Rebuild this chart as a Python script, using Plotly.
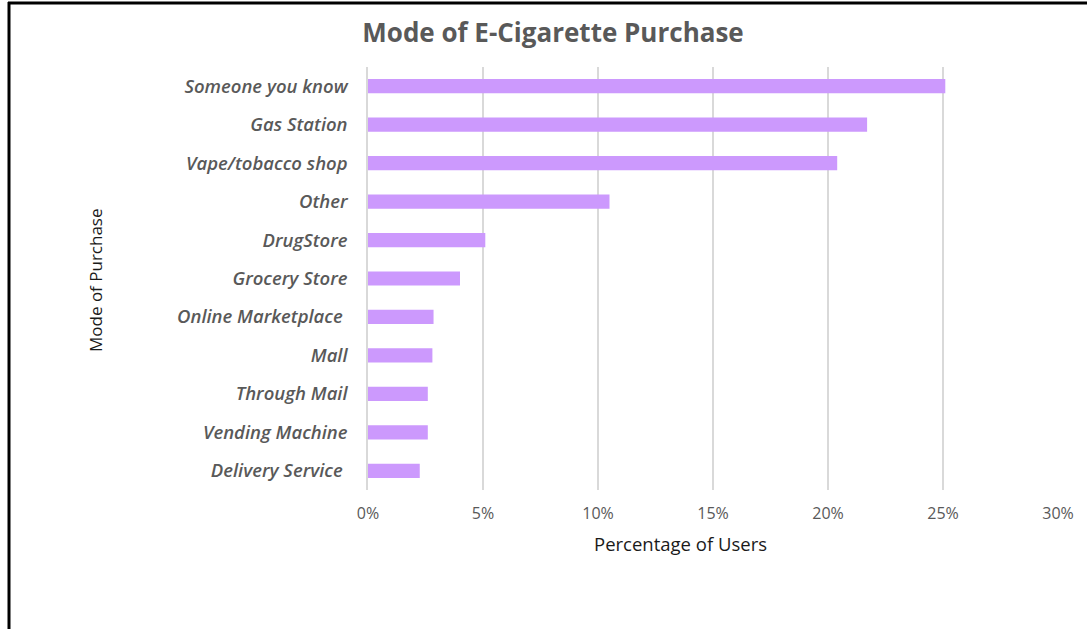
import plotly.graph_objects as go

# Purchase channels, top to bottom
categories = [
    "Someone you know", "Gas Station", "Vape/tobacco shop", "Other",
    "DrugStore", "Grocery Store", "Online Marketplace\u00a0", "Mall",
    "Through Mail", "Vending Machine", "Delivery Service\u00a0",
]
# Share of users (%)
shares = [25.1, 21.7, 20.4, 10.5, 5.1, 4.0, 2.85, 2.8, 2.6, 2.6, 2.25]

x_ticks = [0, 5, 10, 15, 20, 25, 30]
x_tick_labels = ["0%", "5%", "10%", "15%", "20%", "25%", "30%"]

fig = go.Figure(
    go.Bar(
        x=shares,
        y=categories,
        orientation="h",
        marker=dict(color="#cc99fd", line=dict(width=0)),
        width=0.37,
    )
)

W, H = 1087, 629
ml, mr, mt, mb = 368, 29, 67, 139
pw, ph = W - ml - mr, H - mt - mb

def px_to_paper_x(px):
    return (px - ml) / pw

def px_to_paper_y(py):
    return (H - mb - py) / ph

fig.update_layout(
    width=W,
    height=H,
    margin=dict(l=ml, r=mr, t=mt, b=mb),
    paper_bgcolor="white",
    plot_bgcolor="white",
    showlegend=False,
    font=dict(family="Open Sans, sans-serif", color="#595959"),
    title=dict(
        text="<b>Mode of E-Cigarette Purchase</b>",
        x=553 / W,
        xanchor="center",
        y=1 - 33 / H,
        yanchor="middle",
        font=dict(size=26, color="#595959", family="Open Sans, sans-serif"),
    ),
)

fig.update_xaxes(
    range=[0, 30],
    tickvals=x_ticks,
    ticktext=x_tick_labels,
    showgrid=True,
    gridcolor="#d9d9d9",
    gridwidth=1.5,
    zeroline=False,
    showline=False,
    tickfont=dict(size=16, color="#595959"),
    ticks="",
    ticklabelstandoff=12,
    fixedrange=True,
)

fig.update_yaxes(
    autorange="reversed",
    showgrid=False,
    showline=True,
    linecolor="#d9d9d9",
    linewidth=1.5,
    ticks="",
    ticklabelstandoff=15,
    tickfont=dict(size=18.5, color="#595959", weight=600, style="italic"),
    fixedrange=True,
)

# Axis titles placed as annotations
fig.add_annotation(
    text="Percentage of Users", xref="paper", yref="paper",
    x=px_to_paper_x(680), y=px_to_paper_y(543),
    xanchor="center", yanchor="middle", showarrow=False,
    font=dict(size=18.5, color="#1a1a1a"),
)
fig.add_annotation(
    text="Mode of Purchase", xref="paper", yref="paper",
    x=px_to_paper_x(95), y=px_to_paper_y(280),
    xanchor="center", yanchor="middle", showarrow=False, textangle=-90,
    font=dict(size=17, color="#1a1a1a"),
)

# Frame lines along the left and top edges of the page
fig.add_shape(type="line", xref="paper", yref="paper",
              x0=px_to_paper_x(9), x1=px_to_paper_x(9),
              y0=px_to_paper_y(2), y1=px_to_paper_y(H + 5),
              line=dict(color="black", width=3))
fig.add_shape(type="line", xref="paper", yref="paper",
              x0=px_to_paper_x(8), x1=px_to_paper_x(W + 5),
              y0=px_to_paper_y(3), y1=px_to_paper_y(3),
              line=dict(color="black", width=3))

fig.write_html("out.html")
